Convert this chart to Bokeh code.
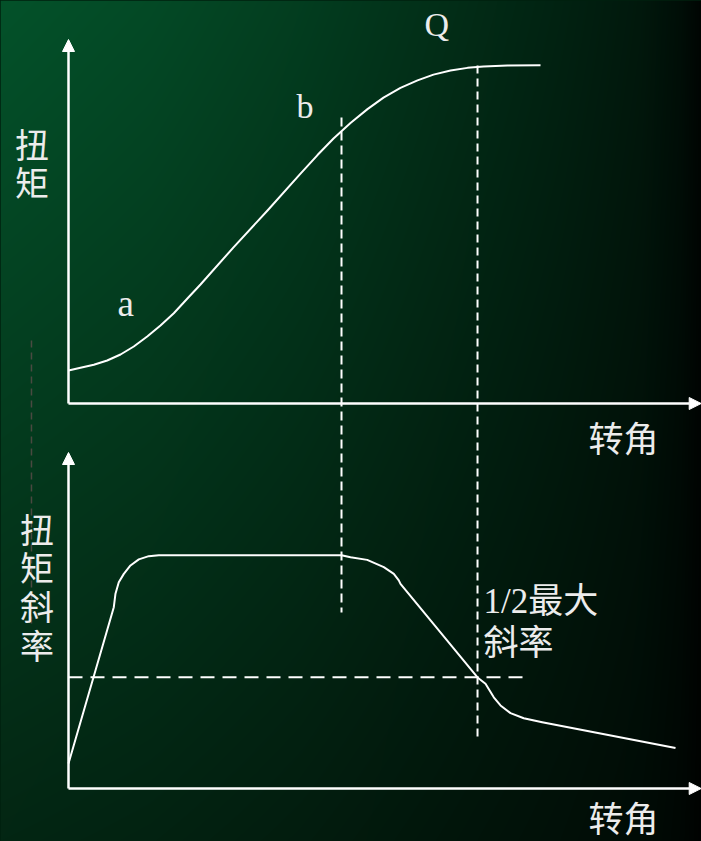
import numpy as np
from bokeh.plotting import figure
from bokeh.models import Range1d, Arrow, NormalHead, Label
from bokeh.embed import file_html
from bokeh.resources import INLINE

# ---------------- data (angle units / torque units / slope units) ----------------
# top panel: torque vs. rotation angle
torque_angle = [0, 2, 4.22, 6.45, 8.67, 10.88, 13.12, 15.33, 17.55, 19.78, 22, 27.5, 33.17, 38.67,
                41.5, 44.17, 47, 49.83, 52.5, 55.33, 58.17, 60.83, 63.67, 66.5, 69.17, 73.17, 78.67]
torque_value = [9.76, 10.56, 11.45, 12.72, 14.5, 16.86, 19.82, 23.08, 26.7, 30.98, 35.2, 46.2, 57.1, 68.0,
                73.5, 78.4, 83.0, 87.1, 90.5, 93.4, 95.6, 97.3, 98.5, 99.3, 99.7, 100.0, 100.1]

# bottom panel: torque slope vs. rotation angle
slope_angle = [0, 7.55, 7.83, 8.38, 9.22, 10.33, 11.72, 13.38, 15.05, 45.5, 47.0, 49.78, 52.55, 54.22,
               55.05, 55.33, 68.17, 69.5, 70.88, 72.0, 73.67, 75.88, 78.95, 101.17]
slope_value = [10.7, 77.7, 83.5, 88.4, 92.0, 95.6, 98.2, 99.6, 100.0, 100.0, 99.1, 98.0, 94.9, 92.0,
               89.2, 87.7, 47.6, 44.9, 39.1, 35.6, 32.3, 30.1, 28.4, 17.4]

angle_b = 45.5          # point b (end of linear zone)
angle_q = 68.17         # point Q (half of max slope)
half_slope = 47.7       # 1/2 of maximum slope level

x_label = "转角"
y_label_top = "扭矩"
y_label_bottom = "扭矩斜率"
half_label = "1/2最大\n斜率"

# ---------------- layout: pixel mapping ----------------
W, H = 701, 841
X0, XS = 68, 6.0          # angle 0 at px 68, 6 px / unit
T0, TS = 403, 3.38        # torque 0 at py 403
S0, SS = 788, 2.333       # slope 0 at py 788

def s_to_t(s):
    py = S0 - SS * s
    return (T0 - py) / TS

x_rng = Range1d(-X0 / XS, (W - X0) / XS)
t_rng = Range1d((T0 - H) / TS, T0 / TS)
s_rng = Range1d((S0 - H) / SS, S0 / SS)

p = figure(width=W, height=H, x_range=x_rng, y_range=t_rng,
           x_axis_type=None, y_axis_type=None, toolbar_location=None,
           output_backend="svg", min_border=0, outline_line_color=None,
           background_fill_color="#01200f", border_fill_color="#01200f")
p.extra_y_ranges = {"slope": s_rng}
p.xgrid.visible = False
p.ygrid.visible = False

# ---------------- background gradient ----------------
xs = np.arange(W)
ys = np.arange(H)
hx = np.interp(xs, [0, 150, 300, 450, 560, 640, 680, 701], [1.0, 0.9, 0.75, 0.56, 0.42, 0.3, 0.18, 0.06])
top_c = np.array([4, 82, 42], float)
bot_c = np.array([3, 38, 19], float)
gy = top_c[None, :] + (bot_c - top_c)[None, :] * (ys / (H - 1))[:, None]
rgb = gy[:, None, :] * hx[None, :, None]
img = np.empty((H, W), dtype=np.uint32)
view = img.view(dtype=np.uint8).reshape((H, W, 4))
view[..., 0] = np.clip(rgb[..., 0], 0, 255)
view[..., 1] = np.clip(rgb[..., 1], 0, 255)
view[..., 2] = np.clip(rgb[..., 2], 0, 255)
view[..., 3] = 255
img = img[::-1]
p.image_rgba(image=[img], x=x_rng.start, y=t_rng.start, dw=x_rng.end - x_rng.start,
             dh=t_rng.end - t_rng.start)

# ---------------- axes with arrows ----------------
ax_kw = dict(line_color="white", line_width=2.5)
def head():
    return NormalHead(size=12, fill_color="white", line_color="white", line_width=1)

p.add_layout(Arrow(end=head(), x_start=0, y_start=0, x_end=0, y_end=(T0 - 39) / TS, **ax_kw))
p.add_layout(Arrow(end=head(), x_start=0, y_start=0, x_end=(W - X0) / XS - 0.05, y_end=0, **ax_kw))
p.add_layout(Arrow(end=head(), x_start=0, y_start=0, x_end=0, y_end=(S0 - 452) / SS,
                   y_range_name="slope", **ax_kw))
p.add_layout(Arrow(end=head(), x_start=0, y_start=0, x_end=(W - X0) / XS - 0.05, y_end=0,
                   y_range_name="slope", **ax_kw))

# ---------------- dashed guide lines ----------------
# faint line at far left
p.segment(x0=[-6.17], y0=[(T0 - 340) / TS], x1=[-6.17], y1=[(T0 - 625) / TS],
          line_color="#6a5050", line_alpha=0.7, line_width=1.5, line_dash="7 5")
# vertical through b
p.segment(x0=[angle_b], y0=[(T0 - 117) / TS], x1=[angle_b], y1=[s_to_t(75.4)],
          line_color="white", line_width=2, line_dash="9 5")
# vertical through Q
p.segment(x0=[angle_q], y0=[100.0], x1=[angle_q], y1=[s_to_t(20.1)],
          line_color="white", line_width=2, line_dash="8 5")
# horizontal half-slope line
p.segment(x0=[0], y0=[half_slope], x1=[(523 - X0) / XS], y1=[half_slope], y_range_name="slope",
          line_color="white", line_width=2, line_dash="14 8")

# ---------------- curves ----------------
p.line(torque_angle, torque_value, line_color="white", line_width=2, line_join="round")
p.line(slope_angle, slope_value, line_color="white", line_width=2, line_join="round",
       y_range_name="slope")

# ---------------- texts ----------------
CJK = "'Noto Sans CJK SC'"
SERIF = "'Liberation Serif', 'Noto Sans CJK SC'"
TXT = "#ececec"

def lab(text, x, y, font, size, align="left", baseline="top", lh=1.2):
    p.add_layout(Label(text=text, x=x, y=H - y, x_units="screen", y_units="screen",
                       text_font=font, text_font_size=f"{size}px", text_color=TXT,
                       text_align=align, text_baseline=baseline, text_line_height=lh))

lab("\n".join(y_label_top), 31.5, 118, CJK, 34, align="center", lh=0.78)
lab("\n".join(y_label_bottom), 36.5, 503, CJK, 34, align="center", lh=0.79)
lab(x_label, 588, 410, CJK, 35)
lab(x_label, 588, 790, CJK, 35)
lab(half_label, 483, 581, SERIF, 35, lh=1.08)
lab("a", 117, 303, SERIF, 37, baseline="alphabetic")
lab("b", 296, 106, SERIF, 34, baseline="alphabetic")
lab("Q", 424, 24, SERIF, 34, baseline="alphabetic")

html = file_html(p, INLINE, title="torque")
html = html.replace("<head>", "<head><style>html,body{margin:0;padding:0;background:#01200f;}</style>", 1)
open("out.html", "w").write(html)
